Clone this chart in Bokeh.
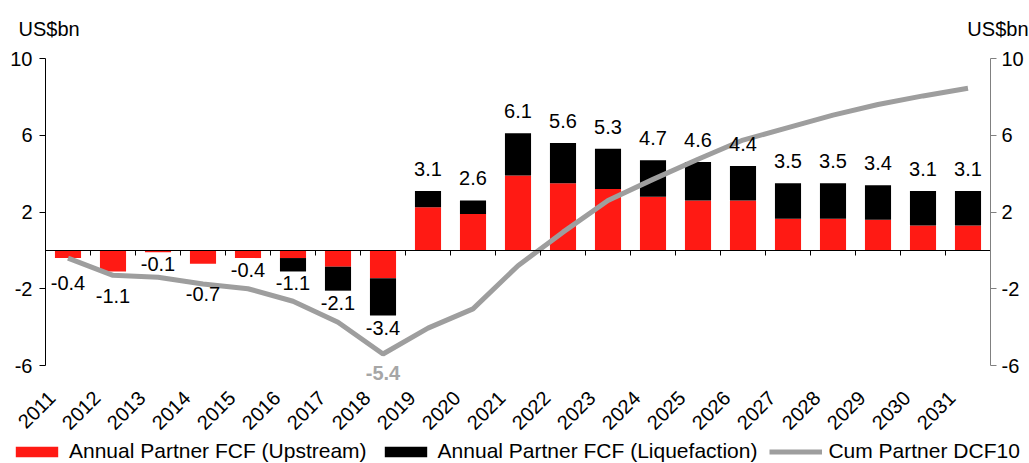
import math
from bokeh.plotting import figure
from bokeh.models import (LinearAxis, Range1d, FixedTicker, Legend,
                          LegendItem, ColumnDataSource)
from bokeh.core.properties import value
from bokeh.embed import file_html
from bokeh.resources import INLINE

# Annual partner free cash flow, US$bn
years = [str(y) for y in range(2011, 2032)]
upstream = [-0.4, -1.1, -0.1, -0.7, -0.4, -0.4, -0.85, -1.45, 2.25, 1.9, 3.9,
            3.5, 3.2, 2.8, 2.6, 2.6, 1.65, 1.65, 1.6, 1.3, 1.3]
liquefaction = [0.0, 0.0, 0.0, 0.0, 0.0, -0.7, -1.25, -1.95, 0.85, 0.7, 2.2,
                2.1, 2.1, 1.9, 2.0, 1.8, 1.85, 1.85, 1.8, 1.8, 1.8]
# Cumulative partner DCF at 10%, US$bn
cum_dcf10 = [-0.4, -1.3, -1.4, -1.75, -2.0, -2.65, -3.75, -5.4, -4.05, -3.05,
             -0.8, 0.95, 2.6, 3.7, 4.75, 5.75, 6.4, 7.05, 7.6, 8.05, 8.45]
y_ticks = [-6, -2, 2, 6, 10]
y_tick_labels = ["-6", "-2", "2", "6", "10"]
unit = "US$bn"

FONT = "Liberation Sans"
RED = "#ff1a14"
GREY = "#9e9e9e"
W, H = 1029, 463
# plotting box inside the canvas (pixels)
LEFT, RIGHT, TOP, BOTTOM = 45, 990, 58, 365
Y_LO, Y_HI = -6, 10

n = len(years)
xs = list(range(n))
totals = [round(u + l, 2) for u, l in zip(upstream, liquefaction)]

# ranges span the whole canvas so that captions and legend can sit outside the
# axes box; the axes themselves are pinned to the box edges
px_x = (RIGHT - LEFT) / n
px_y = (BOTTOM - TOP) / (Y_HI - Y_LO)
x0, x1 = -0.5, n - 0.5
x_range = Range1d(x0 - LEFT / px_x, x1 + (W - RIGHT) / px_x)
y_range = Range1d(Y_LO - (H - BOTTOM) / px_y, Y_HI + TOP / px_y)

p = figure(width=W, height=H, output_backend="svg", toolbar_location=None,
           x_range=x_range, y_range=y_range, min_border=0,
           outline_line_color=None, x_axis_location=None, y_axis_location=None)
p.xgrid.visible = False
p.ygrid.visible = False

# stacked bars: upstream from zero, liquefaction stacked beyond it
src = ColumnDataSource(dict(x=xs, up=upstream, tot=totals))
r_up = p.vbar(x="x", bottom=0, top="up", width=0.58, source=src,
              fill_color=RED, line_color=None)
r_liq = p.vbar(x="x", bottom="up", top="tot", width=0.58, source=src,
               fill_color="black", line_color=None)

# cumulative DCF line
r_cum = p.line(xs, cum_dcf10, line_width=5, line_color=GREY)

# total labels
extra = {"2011": 13, "2012": 13, "2014": 18}
offs = [-22 if t > 0 else 12 + extra.get(yr, 0) for yr, t in zip(years, totals)]
lab_src = ColumnDataSource(dict(x=xs, y=totals, off=offs,
                                txt=[f"{t:.1f}" for t in totals]))
p.text(x="x", y="y", text="txt", y_offset="off", source=lab_src,
       text_align="center", text_baseline="middle",
       text_font=value(FONT), text_font_size="20px", text_color="black")

# trough of the cumulative line
i_min = min(range(n), key=lambda i: cum_dcf10[i])
p.text(x=[i_min], y=[cum_dcf10[i_min]], text=[f"{cum_dcf10[i_min]:.1f}"],
       y_offset=19, text_align="center", text_baseline="middle",
       text_font=value(FONT), text_font_size="20px", text_font_style="bold",
       text_color="#a6a6a6")

# value axes
def style_y(ax, color):
    ax.ticker = FixedTicker(ticks=y_ticks)
    ax.major_label_overrides = dict(zip(y_ticks, y_tick_labels))
    ax.bounds = (Y_LO, Y_HI)
    ax.axis_line_color = color
    ax.major_tick_line_color = color
    ax.major_tick_out = 6
    ax.major_tick_in = 0
    ax.minor_tick_line_color = None
    ax.major_label_text_font = FONT
    ax.major_label_text_font_size = "20px"
    ax.major_label_text_color = "black"

left_ax = LinearAxis(fixed_location=x0)
style_y(left_ax, "black")
left_ax.major_label_standoff = 7
p.add_layout(left_ax, "left")

right_ax = LinearAxis(fixed_location=x1)
style_y(right_ax, "#808080")
right_ax.major_label_standoff = 5
p.add_layout(right_ax, "right")

# zero line with ticks at the category boundaries
zero_ax = LinearAxis(fixed_location=0, bounds=(x0, x1))
zero_ax.ticker = FixedTicker(ticks=[i + 0.5 for i in range(n - 1)])
zero_ax.axis_line_color = "black"
zero_ax.major_tick_line_color = "black"
zero_ax.major_tick_out = 5
zero_ax.major_tick_in = 0
zero_ax.minor_tick_line_color = None
zero_ax.major_label_text_alpha = 0
p.add_layout(zero_ax, "below")

# year labels under the box
shift = 0.36
cat_ticks = [round(i - shift, 2) for i in xs]
year_ax = LinearAxis(fixed_location=Y_LO)
year_ax.ticker = FixedTicker(ticks=cat_ticks)
year_ax.major_label_overrides = {t: y for t, y in zip(cat_ticks, years)}
year_ax.major_label_orientation = math.pi / 4
year_ax.axis_line_color = None
year_ax.major_tick_line_color = None
year_ax.minor_tick_line_color = None
year_ax.major_label_standoff = 23
year_ax.major_label_text_font = FONT
year_ax.major_label_text_font_size = "20px"
year_ax.major_label_text_color = "black"
p.add_layout(year_ax, "below")

# unit captions above both value axes
cap_y = Y_HI + 30 / px_y
p.text(x=[x0 - 27 / px_x, x1 + 38 / px_x], y=[cap_y, cap_y], text=[unit, unit],
       text_align=["left", "right"], text_baseline="middle",
       text_font=value(FONT), text_font_size="20px", text_color="black")

legend = Legend(items=[
    LegendItem(label="Annual Partner FCF (Upstream)", renderers=[r_up]),
    LegendItem(label="Annual Partner FCF (Liquefaction)", renderers=[r_liq]),
    LegendItem(label="Cum Partner DCF10", renderers=[r_cum]),
], orientation="horizontal", location=(10, 0), glyph_width=53,
    glyph_height=13, label_standoff=6, spacing=12, padding=0, margin=0,
    border_line_color=None, background_fill_alpha=0,
    label_text_font=FONT, label_text_font_size="21px", label_text_color="black")
p.add_layout(legend)

open("out.html", "w").write(file_html(p, INLINE))
